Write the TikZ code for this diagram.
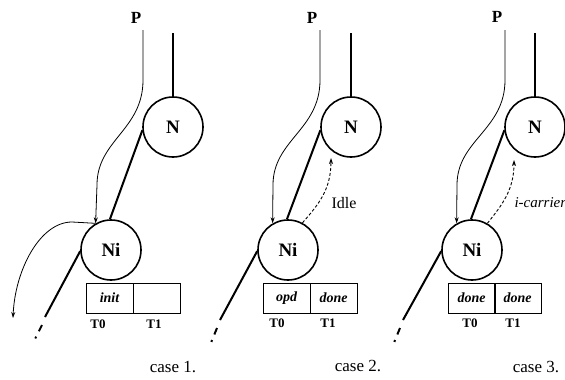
\documentclass[tikz,border=0pt]{standalone}
\usepackage{fontspec}
\setmainfont{Liberation Serif}
\usetikzlibrary{arrows.meta}
\begin{document}
\begin{tikzpicture}[x=1pt,y=-1pt,
  proc/.style={circle, draw, line width=1.6pt, minimum size=60pt, inner sep=0pt,
    font=\bfseries\fontsize{19}{19}\selectfont},
  cell/.style={rectangle, draw, line width=1pt, minimum width=47pt, minimum height=30pt,
    inner sep=0pt, font=\bfseries\itshape\fontsize{14}{14}\selectfont},
  tlabel/.style={font=\bfseries\fontsize{13}{13}\selectfont},
  plabel/.style={font=\bfseries\fontsize{17}{17}\selectfont},
  caselabel/.style={font=\fontsize{17}{17}\selectfont},
  note/.style={font=\fontsize{16}{16}\selectfont},
  link/.style={line width=2pt},
  trail/.style={line width=2pt, dash pattern=on 7pt off 6pt on 2pt off 20pt},
  flow/.style={line width=0.8pt, -{Stealth[length=6pt,width=4pt]}},
  signal/.style={line width=0.9pt, densely dashed, -{Stealth[length=6pt,width=4pt]}},
]
\useasboundingbox (0,0) rectangle (565,380);

% ---------------- case 1 ----------------
\node[proc] (N1) at (173,127) {N};
\node[proc] (Ni1) at (111,250) {Ni};
\node[plabel] (P1) at (136,18) {P};
\coordinate (p1) at (143,30);
\coordinate (t1) at (173,33);
\coordinate (e1) at (45,317);
\coordinate (d1) at (42,325);
\coordinate (o1) at (13,318);
\draw[link] (t1) -- (N1.north);
\draw[link] (N1.186) -- (Ni1.92);
\draw[link] (Ni1.182) -- (e1);
\draw[trail] (d1) -- (33,343);
\draw[flow] (p1) -- (143,80) .. controls (143,130) and (97,140) .. (97,185) -- (Ni1.120);
\draw[flow] (Ni1.120) -- (72,222) .. controls (40,222) and (15,270) .. (o1);
\node[cell] (a1) at (109.5,298) {init};
\node[cell] (b1) at (156.5,298) {};
\node[tlabel] (x1) at (98,324) {T0};
\node[tlabel] (y1) at (154,324) {T1};
\node[caselabel] (c1) at (173,367) {case 1.};

% ---------------- case 2 ----------------
\node[proc] (N2) at (351,127) {N};
\node[proc] (Ni2) at (288,250) {Ni};
\node[plabel] (P2) at (312,18) {P};
\coordinate (p2) at (320,30);
\coordinate (t2) at (351,33);
\coordinate (e2) at (220,320);
\coordinate (d2) at (217,328);
\draw[link] (t2) -- (N2.north);
\draw[link] (N2.186) -- (Ni2.92);
\draw[link] (Ni2.182) -- (e2);
\draw[trail] (d2) -- (208,350);
\draw[flow] (p2) -- (320,80) .. controls (320,130) and (273,140) .. (273,185) -- (Ni2.120);
\draw[signal] (Ni2.62) .. controls (318,205) and (331,190) .. (331,158);
\node[note] (idle) at (344,203) {Idle};
\node[cell] (a2) at (286.5,298) {opd};
\node[cell] (b2) at (333.5,298) {done};
\node[tlabel] (x2) at (277,323) {T0};
\node[tlabel] (y2) at (328,323) {T1};
\node[caselabel] (c2) at (358,366) {case 2.};

% ---------------- case 3 ----------------
\node[proc] (N3) at (535,127) {N};
\node[proc] (Ni3) at (472,250) {Ni};
\node[plabel] (P3) at (497,17) {P};
\coordinate (p3) at (505,30);
\coordinate (t3) at (535,33);
\coordinate (e3) at (403,320);
\coordinate (d3) at (400,328);
\draw[link] (t3) -- (N3.north);
\draw[link] (N3.186) -- (Ni3.92);
\draw[link] (Ni3.182) -- (e3);
\draw[trail] (d3) -- (391,350);
\draw[flow] (p3) -- (505,80) .. controls (505,130) and (457,140) .. (457,185) -- (Ni3.120);
\draw[signal] (Ni3.60) .. controls (502,205) and (514,190) .. (514,160);
\node[note, font=\itshape\fontsize{15}{15}\selectfont, anchor=west] (icar) at (511,203) {i-carrier};
\node[cell] (a3) at (471.5,298) {done};
\node[cell] (b3) at (517.5,298) {done};
\node[tlabel] (x3) at (470,323) {T0};
\node[tlabel] (y3) at (513,323) {T1};
\node[caselabel] (c3) at (536,367) {case 3.};
\end{tikzpicture}
\end{document}
